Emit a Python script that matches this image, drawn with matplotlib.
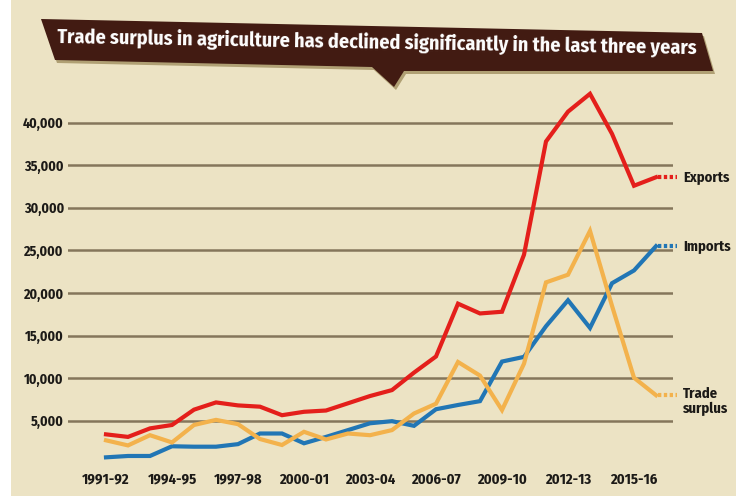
import matplotlib.pyplot as plt
from matplotlib.patches import Polygon, Rectangle
import numpy as np

plt.rcParams['font.family'] = ['Fira Sans Condensed', 'Barlow Semi Condensed', 'DejaVu Sans']

years = ['1991-92', '1992-93', '1993-94', '1994-95', '1995-96', '1996-97', '1997-98',
         '1998-99', '1999-00', '2000-01', '2001-02', '2002-03', '2003-04', '2004-05',
         '2005-06', '2006-07', '2007-08', '2008-09', '2009-10', '2010-11', '2011-12',
         '2012-13', '2013-14', '2014-15', '2015-16', '2016-17']
exports = [3400, 3100, 4100, 4500, 6300, 7150, 6800, 6650, 5650, 6050, 6200, 7050, 7900,
           8600, 10650, 12550, 18750, 17600, 17800, 24500, 37800, 41300, 43400, 38700,
           32600, 33600]
imports = [700, 860, 860, 2000, 1950, 1950, 2250, 3500, 3500, 2350, 3100, 3900, 4700,
           4950, 4400, 6350, 6850, 7300, 11950, 12500, 16100, 19150, 15900, 21150,
           22650, 25500]
surplus = [2700, 2100, 3300, 2450, 4500, 5100, 4600, 2850, 2150, 3700, 2800, 3500, 3300,
           3900, 5850, 7000, 11900, 10300, 6250, 11700, 21250, 22150, 27300, 18500,
           10050, 8000]
yticks = [5000, 10000, 15000, 20000, 25000, 30000, 35000, 40000]

RED = '#e41f1b'
BLUE = '#2176b5'
ORANGE = '#f3b24c'
CREAM = '#ece3c4'
GRID = '#85765b'
BROWN = '#421b12'
TEXT = '#1c1a17'

W, H = 736, 499
fig = plt.figure(figsize=(W / 100, H / 100), dpi=100, facecolor='white')


def px(x, y):
    return (x / W, 1 - y / H)


# background panel
fig.patches.append(Rectangle(px(11, 496), (W - 11) / W, 496 / H, transform=fig.transFigure,
                             facecolor=CREAM, edgecolor='none', zorder=-5))

# title banner with speech tail
banner = [(41, 19), (702, 33), (713, 71), (404, 71), (394, 87), (372, 67), (55, 60)]
shadow = [px(x + 2, y + 3) for x, y in banner]
fig.patches.append(Polygon(shadow, closed=True, transform=fig.transFigure,
                           facecolor='#b0a074', edgecolor='none', zorder=1))
fig.patches.append(Polygon([px(x, y) for x, y in banner], closed=True,
                           transform=fig.transFigure, facecolor=BROWN,
                           edgecolor='none', zorder=2))
fig.text(*px(377, 43), 'Trade surplus in agriculture has declined significantly in the last three years',
         color='white', fontsize=14.5, fontweight='bold', ha='center', va='center',
         rotation=-1.0, zorder=3)

# plot area: x index 0 sits at 106 px, 22 px per year; 0 at 463.3 px, 5000 per 42.57 px
x0, step = 106, 22
left_px, right_px = 68, 673
y0, per = 463.3, 42.57 / 5000
ytop = 44500
top_px = y0 - ytop * per
ax = fig.add_axes([left_px / W, 1 - y0 / H, (right_px - left_px) / W, (y0 - top_px) / H])
ax.set_xlim((left_px - x0) / step, (right_px - x0) / step)
ax.set_ylim(0, ytop)
ax.patch.set_visible(False)
for s in ax.spines.values():
    s.set_visible(False)

for v in yticks:
    ax.axhline(v, color=GRID, lw=1.8, zorder=1)

x = np.arange(len(years))
for vals, col, name, dy in [(exports, RED, 'Exports', 0),
                            (imports, BLUE, 'Imports', 0),
                            (surplus, ORANGE, 'Trade\nsurplus', 8)]:
    ax.plot(x, vals, color=col, lw=3, solid_joinstyle='miter', zorder=3, clip_on=False)
    ax.plot([x[-1] + 0.08, x[-1] + 0.95], [vals[-1], vals[-1]], color=col, lw=3,
            linestyle=(0, (0.8, 0.6)), dash_capstyle='butt', zorder=3, clip_on=False)
    ax.annotate(name, (x[-1], vals[-1]), xytext=(27, dy), textcoords='offset pixels',
                ha='left', va='center' if dy == 0 else 'top', fontsize=10.5,
                fontweight='bold', color=TEXT, linespacing=1.05,
                annotation_clip=False)

ax.set_yticks(yticks, [f'{v:,}' for v in yticks])
ax.set_xticks(x[::3], years[::3])
ax.tick_params(axis='y', length=0, pad=3, labelsize=10, labelcolor=TEXT)
ax.tick_params(axis='x', length=0, pad=6.5, labelsize=10.5, labelcolor=TEXT)
for lab in ax.get_xticklabels() + ax.get_yticklabels():
    lab.set_fontweight('bold')

fig.savefig('out.png', dpi=100, facecolor='white')
